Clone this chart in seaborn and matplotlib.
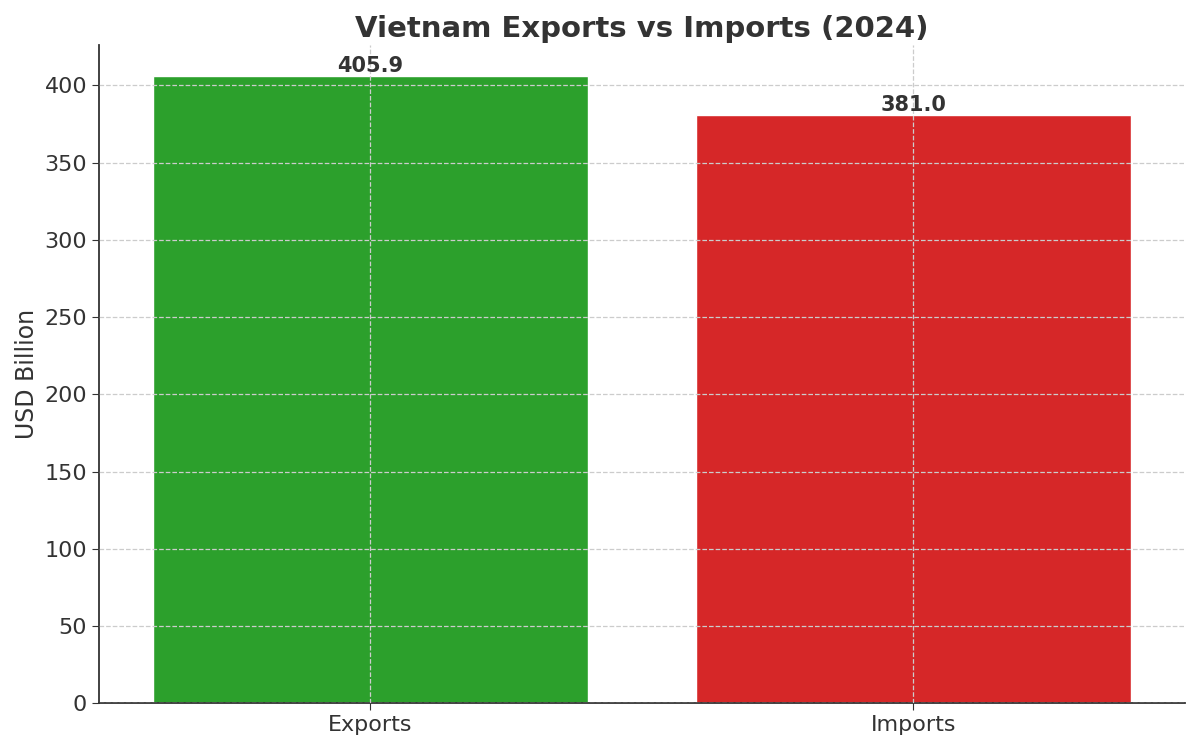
import matplotlib
matplotlib.use("Agg")
import matplotlib.pyplot as plt
import seaborn as sns
import pandas as pd

categories = ["Exports", "Imports"]
values = [405.9, 381.0]
colors = ["#2ca02c", "#d62728"]

df = pd.DataFrame({"category": categories, "value": values})

sns.set_style("white")
plt.rcParams["font.family"] = ["DejaVu Sans"]

fig, ax = plt.subplots(figsize=(12, 7.5), dpi=100)
sns.barplot(data=df, x="category", y="value", hue="category",
            palette=colors, width=0.8, saturation=1, legend=False, ax=ax)

for i, v in enumerate(values):
    ax.text(i, v, f"{v:.1f}", ha="center", va="bottom",
            fontsize=15, fontweight="bold", color="#333333")

ax.set_title("Vietnam Exports vs Imports (2024)", fontsize=21,
             fontweight="bold", color="#333333")
ax.set_xlabel("")
ax.set_ylabel("USD Billion", fontsize=17, color="#333333")
ax.tick_params(axis="both", labelsize=16, colors="#333333", length=5, left=True, bottom=True)
ax.set_ylim(0, 426)
ax.grid(True, linestyle="--", color="#cccccc", linewidth=0.9)
ax.set_axisbelow(False)
sns.despine(ax=ax)
for s in ["left", "bottom"]:
    ax.spines[s].set_color("#333333")
    ax.spines[s].set_linewidth(1.3)

plt.tight_layout()
plt.savefig("out.png", dpi=100)
